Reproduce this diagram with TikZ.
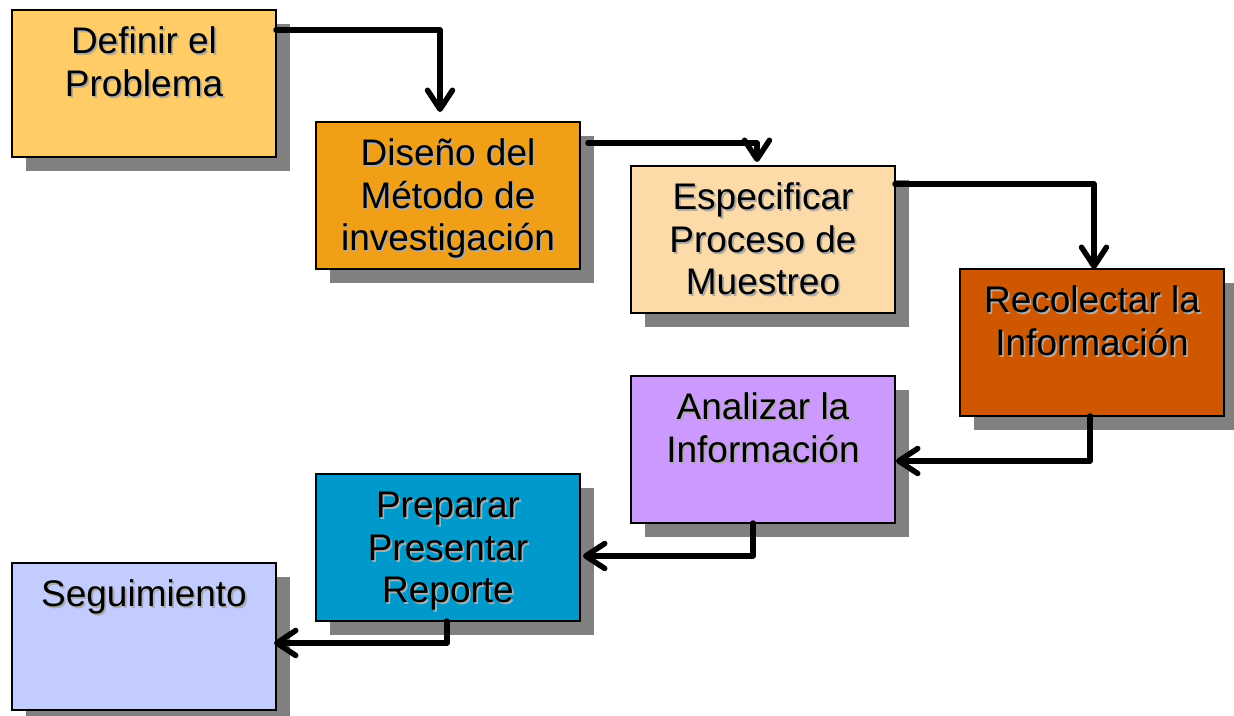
\documentclass[tikz,border=0pt]{standalone}
\usepackage{fontspec}
\setmainfont{Liberation Sans}
\usetikzlibrary{arrows.meta,shadows,calc}
\definecolor{cA}{HTML}{FFCC66}
\definecolor{cB}{HTML}{F29F18}
\definecolor{cC}{HTML}{FDDBA8}
\definecolor{cD}{HTML}{CF5700}
\definecolor{cE}{HTML}{CC99FF}
\definecolor{cF}{HTML}{0099CC}
\definecolor{cG}{HTML}{C2CCFF}
\definecolor{boxshadow}{HTML}{808080}
\definecolor{tshadow}{HTML}{ABABAB}
\newcommand\shl[1]{\leavevmode\rlap{\kern1.8pt\raisebox{-1.8pt}{\textcolor{tshadow}{#1}}}#1}
\begin{document}
\begin{tikzpicture}[x=1pt,y=-1pt,
  box/.style={draw=black, line width=2pt, minimum width=264pt, minimum height=147pt,
    inner sep=0pt, outer sep=0pt, anchor=north west,
    drop shadow={shadow xshift=14pt, shadow yshift=-14pt, fill=boxshadow, opacity=1, draw=none}},
  lbl/.style={font=\fontsize{37}{42.5}\selectfont, align=center, anchor=north, inner sep=0pt},
  arr/.style={line width=5.5pt, line join=round, line cap=round,
    -{Straight Barb[round,length=19pt,width=25pt]}}]
\useasboundingbox (0,0) rectangle (1234,715);
\node[box, fill=cA] (b1) at (12,10) {};
\node[box, fill=cB] (b2) at (316,122) {};
\node[box, fill=cC] (b3) at (631,166) {};
\node[box, fill=cD] (b4) at (960,269) {};
\node[box, fill=cE] (b5) at (631,376) {};
\node[box, fill=cF] (b6) at (316,474) {};
\node[box, fill=cG] (b7) at (12,563) {};
\node[lbl] (t1) at ($(b1.north)+(0,14)$) {\strut\shl{Definir el}\\\shl{Problema}};
\node[lbl] (t2) at ($(b2.north)+(0,14)$) {\strut\shl{Diseño del}\\\shl{Método de}\\\shl{investigación}};
\node[lbl] (t3) at ($(b3.north)+(0,14)$) {\strut\shl{Especificar}\\\shl{Proceso de}\\\shl{Muestreo}};
\node[lbl] (t4) at ($(b4.north)+(0,14)$) {\strut\shl{Recolectar la}\\\shl{Información}};
\node[lbl] (t5) at ($(b5.north)+(0,14)$) {\strut\shl{Analizar la}\\\shl{Información}};
\node[lbl] (t6) at ($(b6.north)+(0,14)$) {\strut\shl{Preparar}\\\shl{Presentar}\\\shl{Reporte}};
\node[lbl] (t7) at ($(b7.north)+(0,14)$) {\strut\shl{Seguimiento}};
\draw[arr] ($(b1.north east)+(0,20)$) -| ($(b2.north west)+(124,-10)$);
\draw[arr] ($(b2.north east)+(8,21)$) -| ($(b3.north west)+(126,-4)$);
\draw[arr] ($(b3.north east)+(0,18)$) -| ($(b4.north west)+(134,0)$);
\draw[arr] ($(b4.south west)+(130,0)$) |- ($(b5.north east)+(1,85)$);
\draw[arr] ($(b5.south west)+(122,0)$) |- ($(b6.north east)+(3,82)$);
\draw[arr] ($(b6.south west)+(131,0)$) |- ($(b7.north east)+(-2,80)$);
\end{tikzpicture}
\end{document}
